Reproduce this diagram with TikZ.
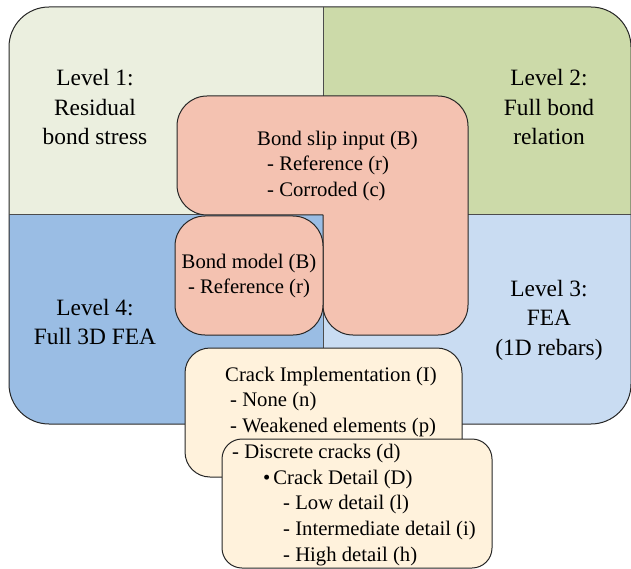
\documentclass[tikz,border=0pt]{standalone}
\usepackage{fontspec}
\setmainfont{LiberationSerif}[Extension=.ttf, UprightFont=*-Regular, BoldFont=*-Bold]
\definecolor{lvlone}{HTML}{EBEFDF}
\definecolor{lvltwo}{HTML}{CCDAA9}
\definecolor{lvlthree}{HTML}{C9DCF2}
\definecolor{lvlfour}{HTML}{9ABDE4}
\definecolor{slip}{HTML}{F4C2B1}
\definecolor{crack}{HTML}{FFF2DC}
\tikzset{
  edge/.style={draw=black!85, line width=1pt},
  bigtext/.style={font=\fontsize{23.4}{29.5}\selectfont, align=center, inner sep=0pt},
  smalltext/.style={font=\fontsize{20.7}{25.8}\selectfont, inner sep=0pt},
}
\begin{document}
\begin{tikzpicture}[x=1pt,y=-1pt]
\useasboundingbox (0,0) rectangle (631,569);
% the four levels
\begin{scope}
  \clip[rounded corners=40] (9,7) rectangle (631,424);
  \fill[lvlone] (9,7) rectangle (323,215);
  \fill[lvltwo] (323,7) rectangle (631,215);
  \fill[lvlfour] (9,215) rectangle (323,424);
  \fill[lvlthree] (323,215) rectangle (631,424);
\end{scope}
\draw[edge, rounded corners=40] (9,7) rectangle (631,424);
\draw[edge, draw=black!70] (323,7) -- (323,424);
\draw[edge, draw=black!70] (9,215) -- (631,215);
\node[bigtext] (lvl1) at (95,107) {Level 1:\\Residual\\bond stress};
\node[bigtext] (lvl2) at (549,107) {Level 2:\\Full bond\\relation};
\node[bigtext] (lvl3) at (549,320) {Level 3:\\FEA\\(1D rebars)};
\node[bigtext] (lvl4) at (95,322) {Level 4:\\Full 3D FEA};
% bond boxes
\draw[edge, fill=slip, rounded corners=30] (323,215) -- (177,215) -- (177,96) -- (468,96) -- (468,335) -- (323,335) -- (323,215);
\draw[edge, fill=slip, rounded corners=30] (175,216) rectangle (323,335);
\node[smalltext, anchor=west, align=left] (slip) at (257,166)
  {Bond slip input (B)\\\hspace*{10pt}- Reference (r)\\\hspace*{10pt}- Corroded (c)};
\node[smalltext, align=center] (model) at (249,276) {Bond model (B)\\- Reference (r)};
% crack boxes
\draw[edge, fill=crack, rounded corners=25] (185,348) rectangle (462,477);
\node[smalltext, anchor=west, align=left] (impl) at (225,402)
  {Crack Implementation (I)\\\hspace*{5pt}- None (n)\\\hspace*{5pt}- Weakened elements (p)};
\draw[edge, fill=crack, rounded corners=20] (222,439) rectangle (492,568);
\node[smalltext, anchor=west, align=left] (detail) at (232,505)
  {- Discrete cracks (d)\\\hspace*{31pt}\textbullet\hspace{3pt}Crack Detail (D)\\
   \hspace*{51pt}- Low detail (l)\\\hspace*{51pt}- Intermediate detail (i)\\
   \hspace*{51pt}- High detail (h)};
\end{tikzpicture}
\end{document}
